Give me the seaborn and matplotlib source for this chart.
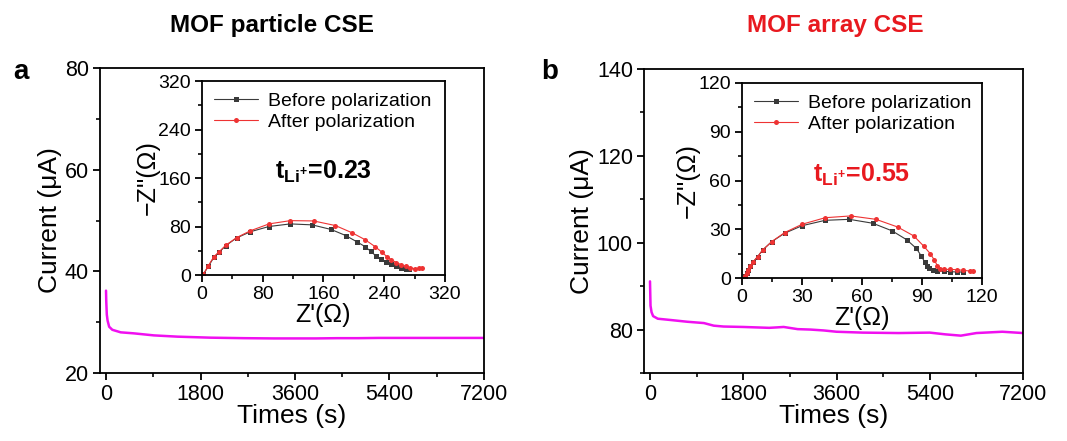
import numpy as np
import pandas as pd
import matplotlib
matplotlib.use('Agg')
import matplotlib.pyplot as plt
from matplotlib.ticker import MultipleLocator
import seaborn as sns

# ---- 主图：极化电流 (Times vs Current) ----
time_a = [0, 5, 15, 30, 60, 120, 280, 530, 910, 1360, 1990, 2630, 3200, 3600, 4000, 4400,
          4800, 5200, 5600, 6000, 6400, 6800, 7200]
curr_a = [36.2, 34.0, 31.5, 30.3, 29.1, 28.5, 28.0, 27.8, 27.4, 27.15, 26.95, 26.85, 26.8, 26.8,
          26.8, 26.85, 26.85, 26.9, 26.9, 26.9, 26.9, 26.9, 26.9]

time_b = [0, 10, 30, 60, 150, 400, 720, 1040, 1230, 1420, 1800, 2300, 2450, 2580, 2850, 3100,
          3350, 3600, 4100, 4800, 5400, 5700, 6000, 6300, 6800, 7200]
curr_b = [91.1, 85.5, 84.0, 83.1, 82.5, 82.2, 81.8, 81.5, 80.9, 80.7, 80.6, 80.4, 80.5, 80.6,
          80.1, 80.0, 79.8, 79.5, 79.3, 79.2, 79.3, 78.9, 78.6, 79.2, 79.5, 79.2]

# ---- 插图：EIS 奈奎斯特图 ----
zre_a_before = [1.7, 8.3, 15.7, 22.7, 31.5, 45.5, 63.8, 88.3, 116.3, 145.1, 170.1, 189.7, 204.2,
                214.6, 222.5, 229.1, 235.6, 242.2, 248.7, 255.3, 261.9, 268.4, 272.8]
zim_a_before = [1.1, 14.1, 29.2, 37.8, 48.6, 61.1, 71.4, 80.0, 84.3, 82.7, 75.1, 64.9, 54.6,
                47.0, 38.9, 31.4, 25.9, 21.6, 17.8, 14.6, 11.9, 10.3, 9.2]
zre_a_after = [1.7, 8.3, 15.7, 22.7, 31.5, 45.5, 63.8, 88.3, 116.3, 146.9, 175.7, 197.6, 214.6,
               227.8, 236.9, 243.5, 249.6, 256.2, 262.7, 269.3, 274.5, 280.7, 285.9, 290.3]
zim_a_after = [1.1, 15.1, 30.3, 38.4, 49.2, 61.6, 73.0, 84.3, 89.7, 89.2, 81.6, 69.7, 58.4,
               47.0, 37.8, 30.3, 24.9, 20.5, 16.8, 14.1, 11.9, 10.3, 10.8, 11.9]

zre_b_before = [1.5, 2.3, 3.1, 4.2, 5.5, 7.8, 10.4, 14.9, 21.4, 30.1, 41.6, 53.7, 65.4, 75.1,
                82.4, 87.2, 89.6, 91.3, 92.6, 93.7, 95.3, 97.7, 101.0, 104.2, 107.4, 110.7]
zim_b_before = [1.0, 3.1, 4.7, 7.1, 9.8, 13.1, 17.3, 22.4, 27.6, 32.2, 35.5, 36.1, 33.7, 29.0,
                23.5, 18.2, 13.7, 10.0, 7.6, 6.1, 5.1, 4.5, 4.1, 3.9, 3.7, 3.7]
zre_b_after = [1.5, 2.3, 3.1, 4.2, 5.5, 7.8, 10.4, 14.9, 21.4, 30.1, 41.6, 54.4, 67.0, 77.8,
               85.9, 90.9, 94.2, 96.1, 97.7, 99.0, 101.0, 104.2, 107.4, 110.7, 113.9, 115.5]
zim_b_after = [1.0, 3.1, 4.7, 7.1, 9.8, 13.1, 17.3, 22.4, 28.0, 33.1, 37.1, 38.2, 36.1, 31.4,
               25.9, 19.6, 14.9, 11.2, 7.6, 5.7, 5.3, 5.3, 5.1, 4.7, 4.3, 4.3]

titles = ['MOF particle CSE', 'MOF array CSE']
title_colors = ['black', '#e8191f']
t_labels = ['0.23', '0.55']
t_colors = ['black', '#e8191f']

sns.set_style('ticks')
# set_style 会重置字体，所以放在后面设置
plt.rcParams['font.family'] = ['Liberation Sans', 'DejaVu Sans']
plt.rcParams['mathtext.fontset'] = 'custom'
plt.rcParams['mathtext.rm'] = 'Liberation Sans'
plt.rcParams['mathtext.bf'] = 'Liberation Sans:bold'
plt.rcParams['mathtext.it'] = 'Liberation Sans:italic'
plt.rcParams['axes.unicode_minus'] = True
for key in ['text.color', 'axes.labelcolor', 'xtick.color', 'ytick.color', 'axes.edgecolor']:
    plt.rcParams[key] = 'black'

MAGENTA = '#f010f0'
BLACK = '#3a3a3a'
RED = '#ee3333'


def style_axes(ax, lab, lw=1.3):
    for sp in ax.spines.values():
        sp.set_visible(True)
        sp.set_linewidth(lw)
        sp.set_color('black')
    ax.tick_params(which='major', direction='out', length=5, width=lw, labelsize=lab,
                   color='black', labelcolor='black', pad=3)
    ax.tick_params(which='minor', direction='out', length=3, width=lw * 0.9, color='black')


fig = plt.figure(figsize=(10.67, 4.41), dpi=100)

main_pos = [[0.0937, 0.1542, 0.3599, 0.6916], [0.6036, 0.1542, 0.3552, 0.6893]]
inset_pos = [[0.1893, 0.3764, 0.2277, 0.4399], [0.6954, 0.3696, 0.2249, 0.4422]]

panels = [
    dict(t=time_a, i=curr_a, ylim=(20, 80), yticks=[20, 40, 60, 80], ymin=10,
         zb=(zre_a_before, zim_a_before), za=(zre_a_after, zim_a_after), zlim=320, zmaj=80, zmin=40),
    dict(t=time_b, i=curr_b, ylim=(70, 140), yticks=[80, 100, 120, 140], ymin=10,
         zb=(zre_b_before, zim_b_before), za=(zre_b_after, zim_b_after), zlim=120, zmaj=30, zmin=15),
]

for k, p in enumerate(panels):
    ax = fig.add_axes(main_pos[k])
    df = pd.DataFrame({'Time': p['t'], 'Current': p['i']})
    sns.lineplot(data=df, x='Time', y='Current', ax=ax, color=MAGENTA, linewidth=1.8, sort=False)
    ax.set_xlim(-115, 7200)
    ax.set_ylim(*p['ylim'])
    ax.xaxis.set_major_locator(MultipleLocator(1800))
    ax.xaxis.set_minor_locator(MultipleLocator(900))
    ax.set_yticks(p['yticks'])
    ax.yaxis.set_minor_locator(MultipleLocator(p['ymin']))
    style_axes(ax, 15.5)
    ax.set_xlabel('Times (s)', fontsize=19, labelpad=-1)
    ax.set_ylabel('Current (μA)', fontsize=19, labelpad=2)

    # 插图
    ins = fig.add_axes(inset_pos[k])
    eis = pd.concat([
        pd.DataFrame({'Zre': p['zb'][0], 'Zim': p['zb'][1], 'State': 'Before polarization'}),
        pd.DataFrame({'Zre': p['za'][0], 'Zim': p['za'][1], 'State': 'After polarization'}),
    ])
    sns.lineplot(data=eis, x='Zre', y='Zim', hue='State', style='State', ax=ins, sort=False,
                 palette={'Before polarization': BLACK, 'After polarization': RED},
                 markers={'Before polarization': 's', 'After polarization': 'o'},
                 dashes=False, linewidth=0.8, markersize=3.6, markeredgewidth=0)
    ins.set_xlim(0, p['zlim'])
    ins.set_ylim(0, p['zlim'])
    ins.xaxis.set_major_locator(MultipleLocator(p['zmaj']))
    ins.xaxis.set_minor_locator(MultipleLocator(p['zmin']))
    ins.yaxis.set_major_locator(MultipleLocator(p['zmaj']))
    ins.yaxis.set_minor_locator(MultipleLocator(p['zmin']))
    style_axes(ins, 14)
    ins.set_xlabel("Z'(Ω)", fontsize=18, labelpad=0)
    ins.set_ylabel("\u2212Z''(Ω)", fontsize=18, labelpad=-1)
    ins.legend(loc='upper left', frameon=False, fontsize=14, handlelength=2.3,
               handletextpad=0.5, borderaxespad=0.2, labelspacing=0.15,
               bbox_to_anchor=(0.0, 1.0))
    ins.text(0.5, 0.53, r'$\mathbf{t_{Li^{+}}}$=' + t_labels[k], transform=ins.transAxes,
             ha='center', va='center', fontsize=18, fontweight='bold', color=t_colors[k])

fig.text(0.255, 0.943, titles[0], ha='center', va='center', fontsize=17.5, fontweight='bold',
         color=title_colors[0])
fig.text(0.7826, 0.943, titles[1], ha='center', va='center', fontsize=17.5, fontweight='bold',
         color=title_colors[1])
fig.text(0.012, 0.837, 'a', ha='left', va='center', fontsize=20, fontweight='bold')
fig.text(0.507, 0.837, 'b', ha='left', va='center', fontsize=20, fontweight='bold')

fig.savefig('out.png', dpi=100)
